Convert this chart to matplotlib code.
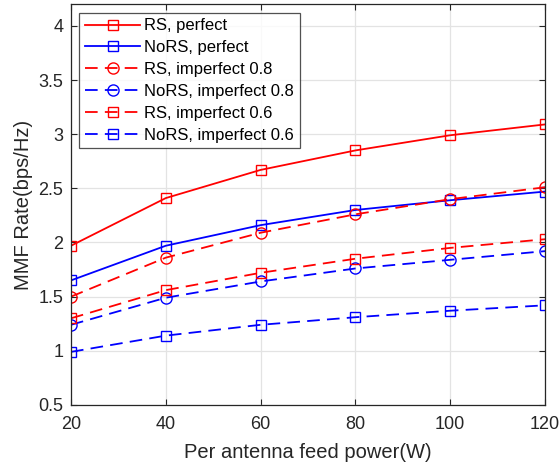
import matplotlib
matplotlib.use('Agg')
import matplotlib.pyplot as plt
import numpy as np

plt.rcParams['font.family'] = ['Liberation Sans', 'DejaVu Sans']

power = [20, 40, 60, 80, 100, 120]

rs_perfect = [1.97, 2.41, 2.67, 2.85, 2.99, 3.09]
nors_perfect = [1.65, 1.97, 2.16, 2.30, 2.39, 2.47]
rs_imp08 = [1.50, 1.86, 2.09, 2.26, 2.40, 2.51]
nors_imp08 = [1.24, 1.49, 1.64, 1.76, 1.84, 1.92]
rs_imp06 = [1.30, 1.56, 1.72, 1.85, 1.95, 2.03]
nors_imp06 = [0.99, 1.14, 1.24, 1.31, 1.37, 1.42]

fig = plt.figure(figsize=(5.59, 4.66), dpi=100)
ax = fig.add_axes([0.127, 0.131, 0.848, 0.860])

dash = (0, (7, 4))
lw = 1.3
ax.plot(power, rs_perfect, '-', color='red', marker='s', mfc='none', ms=6.5, lw=lw, label='RS, perfect')
ax.plot(power, nors_perfect, '-', color='blue', marker='s', mfc='none', ms=6.5, lw=lw, label='NoRS, perfect')
ax.plot(power, rs_imp08, linestyle=dash, color='red', marker='o', mfc='none', ms=8, lw=lw, label='RS, imperfect 0.8')
ax.plot(power, nors_imp08, linestyle=dash, color='blue', marker='o', mfc='none', ms=8, lw=lw, label='NoRS, imperfect 0.8')
ax.plot(power, rs_imp06, linestyle=dash, color='red', marker='s', mfc='none', ms=6.5, lw=lw, label='RS, imperfect 0.6')
ax.plot(power, nors_imp06, linestyle=dash, color='blue', marker='s', mfc='none', ms=6.5, lw=lw, label='NoRS, imperfect 0.6')

ax.set_xlim(20, 120)
ax.set_ylim(0.5, 4.2)
ax.set_xticks(power)
ax.set_yticks(np.arange(0.5, 4.01, 0.5))
ax.set_yticklabels(['0.5', '1', '1.5', '2', '2.5', '3', '3.5', '4'])
ax.grid(True, color='#e3e3e3', lw=0.9)
ax.set_axisbelow(True)
ax.tick_params(direction='in', top=True, right=True, labelsize=13, colors='#262626', length=4)
ax.tick_params(axis='x', pad=8)
ax.tick_params(axis='y', pad=5.5)
for s in ax.spines.values():
    s.set_color('#262626')
    s.set_linewidth(0.9)

ax.set_xlabel('Per antenna feed power(W)', fontsize=14.5, color='#262626', labelpad=7)
ax.set_ylabel('MMF Rate(bps/Hz)', fontsize=14.5, color='#262626', labelpad=4)

leg = ax.legend(loc='upper left', fontsize=12, fancybox=False, edgecolor='#262626',
                handlelength=3.3, borderpad=0.35, labelspacing=0.41, handletextpad=0.25,
                borderaxespad=0.5)
leg.get_frame().set_linewidth(0.9)

fig.savefig('out.png', dpi=100)
